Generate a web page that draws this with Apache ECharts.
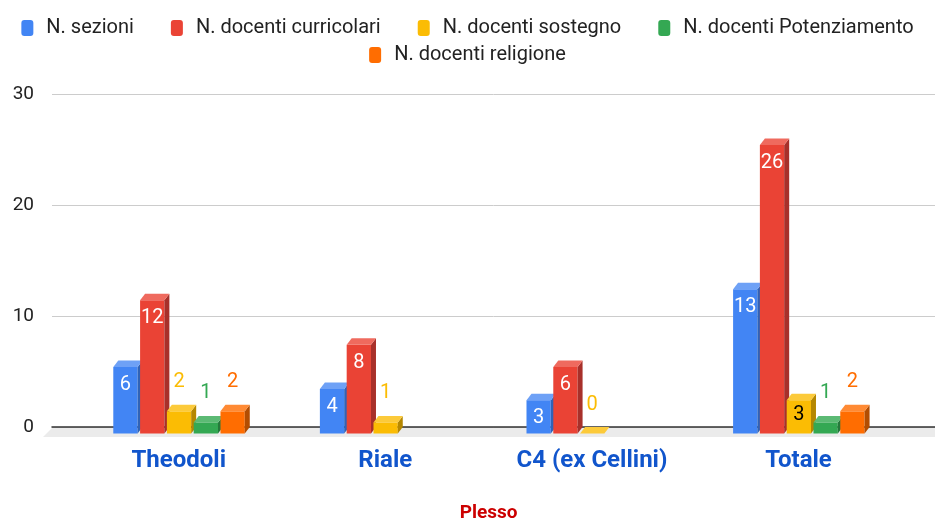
<!DOCTYPE html>
<html>
<head>
<meta charset="utf-8">
<script src="https://cdn.jsdelivr.net/npm/echarts@6/dist/echarts.min.js"></script>
<style>html,body{margin:0;padding:0;background:#fff}#c{width:935px;height:521px}</style>
</head>
<body>
<div id="c"></div>
<script>
const categories = ['Theodoli', 'Riale', 'C4 (ex Cellini)', 'Totale'];
const seriesNames = ['N. sezioni', 'N. docenti curricolari', 'N. docenti sostegno', 'N. docenti Potenziamento', 'N. docenti religione'];
const sezioni = [6, 4, 3, 13];
const curricolari = [12, 8, 6, 26];
const sostegno = [2, 1, 0, 3];
const potenziamento = [1, null, null, 1];
const religione = [2, null, null, 2];
const yMin = 0, yMax = 30, yStep = 10;
const axisTitle = 'Plesso';

const seriesValues = [sezioni, curricolari, sostegno, potenziamento, religione];
const frontColors = ['#4285F4', '#EA4335', '#FBBC04', '#34A853', '#FF6D01'];
const topColors = ['#6ea1f6', '#ef6a5e', '#fcca3a', '#5cba74', '#ff8a34'];
const sideColors = ['#2f63b8', '#a8302a', '#b58700', '#24793b', '#b34d01'];
const insideText = ['#ffffff', '#ffffff', '#000000', '#ffffff', '#ffffff'];

const DX = 5, DY = 6.5;

function makeRender(k) {
  return function (params, api) {
    const ci = api.value(0);
    const v = api.value(1);
    if (v == null || isNaN(v)) return null;
    const base = api.coord([ci, 0]);
    const tp = api.coord([ci, v]);
    const band = api.size([1, 0])[0];
    const bw = band * 0.1176;
    const step = band * 0.1297;
    const fx = base[0] - band * 0.3166 + k * step;
    const ty = tp[1], by = base[1];
    const children = [];
    if (by - ty > 0.01) {
      children.push({ type: 'rect', shape: { x: fx, y: ty, width: bw, height: by - ty }, style: { fill: frontColors[k] } });
      children.push({ type: 'polygon', shape: { points: [[fx + bw, ty], [fx + bw + DX, ty - DY], [fx + bw + DX, by - DY], [fx + bw, by]] }, style: { fill: sideColors[k] } });
    }
    children.push({ type: 'polygon', shape: { points: [[fx, ty], [fx + bw, ty], [fx + bw + DX, ty - DY], [fx + DX, ty - DY]] }, style: { fill: topColors[k] } });
    const inside = v >= 3;
    children.push({
      type: 'text',
      style: {
        text: String(v),
        x: fx + bw / 2,
        y: inside ? ty + (k === 2 ? 15 : 18) : ty - 29,
        align: 'center', verticalAlign: 'middle',
        fill: inside ? insideText[k] : frontColors[k],
        font: '20px Roboto'
      }
    });
    return { type: 'group', children: children };
  };
}

const series = seriesNames.map((name, k) => ({
  name: name,
  type: 'custom',
  xAxisIndex: 1,
  yAxisIndex: 1,
  clip: false,
  itemStyle: { color: frontColors[k] },
  renderItem: makeRender(k),
  data: seriesValues[k].map((v, i) => [i, v]).filter(d => d[1] != null),
  encode: { x: 0, y: 1 },
  z: 5
}));

// floor of the 3D plot, drawn from the grid rectangle
series.unshift({
  name: 'floor',
  type: 'custom',
  xAxisIndex: 0,
  yAxisIndex: 0,
  silent: true,
  clip: false,
  z: 0,
  data: [[0, 0]],
  renderItem: function (params, api) {
    const cs = params.coordSys;
    const y0 = cs.y + cs.height + 1;
    const y1 = y0 + 9;
    return {
      type: 'polygon',
      shape: { points: [[cs.x, y0], [cs.x + cs.width, y0], [cs.x + cs.width, y1], [cs.x - 9, y1]] },
      style: { fill: '#ebebeb' }
    };
  }
});

const legendText = { fontSize: 20, color: '#222', fontFamily: 'Roboto', padding: [0, 0, 0, 8] };
const legendItems = seriesNames.map((n, k) => ({ name: n, itemStyle: { color: frontColors[k] } }));

const chart = echarts.init(document.getElementById('c'), null, { renderer: 'canvas' });
chart.setOption({
  animation: false,
  backgroundColor: '#ffffff',
  textStyle: { fontFamily: 'Roboto' },
  legend: [
    {
      top: 13, left: 'center', icon: 'roundRect', itemWidth: 12, itemHeight: 16, itemGap: 37,
      textStyle: legendText, data: legendItems.slice(0, 4)
    },
    {
      top: 40, left: 'center', icon: 'roundRect', itemWidth: 12, itemHeight: 16, itemGap: 37,
      textStyle: legendText, data: legendItems.slice(4)
    }
  ],
  grid: [
    { left: 52, right: 0, top: 94, bottom: 94, outerBoundsMode: 'none', containLabel: false },
    { left: 75.4, right: 33.2, top: 100.5, bottom: 87.5, outerBoundsMode: 'none', containLabel: false }
  ],
  xAxis: [
    {
      gridIndex: 0, type: 'category', data: categories,
      axisLine: { show: true, lineStyle: { color: '#333', width: 1.5 } },
      axisTick: { show: false }, axisLabel: { show: false }, splitLine: { show: false }
    },
    {
      gridIndex: 1, type: 'category', data: categories,
      axisLine: { show: false }, axisTick: { show: false },
      axisLabel: { margin: 15, fontSize: 24, fontWeight: 'bold', color: '#1155cc', fontFamily: 'Roboto' },
      name: axisTitle, nameLocation: 'middle', nameGap: 70,
      nameTextStyle: { fontSize: 19, fontWeight: 'bold', color: '#cc0000', fontFamily: 'Roboto' }
    }
  ],
  yAxis: [
    {
      gridIndex: 0, type: 'value', min: yMin, max: yMax, interval: yStep,
      axisLine: { show: false }, axisTick: { show: false },
      axisLabel: { margin: 18, fontSize: 19, color: '#222', fontFamily: 'Roboto' },
      splitLine: { lineStyle: { color: '#cccccc', width: 1 } }
    },
    {
      gridIndex: 1, type: 'value', min: yMin, max: yMax, interval: yStep,
      show: false, splitLine: { show: false }
    }
  ],
  series: series
});
</script>
</body>
</html>
